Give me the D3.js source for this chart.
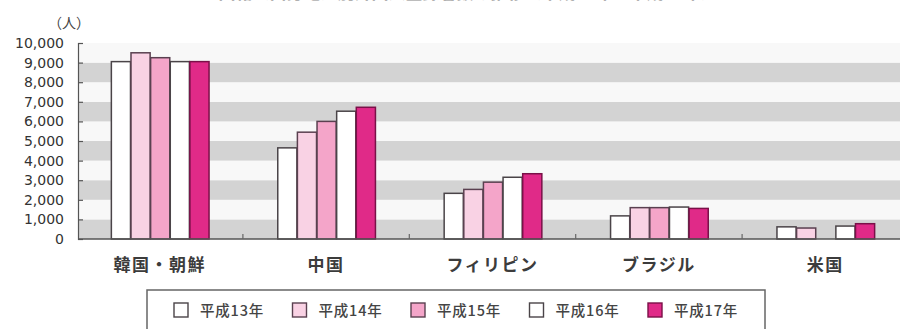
<!DOCTYPE html>
<html>
<head>
<meta charset="utf-8">
<script src="https://cdn.jsdelivr.net/npm/d3@7"></script>
<style>
  html, body { margin: 0; padding: 0; background: #fff; }
  svg { display: block; }
</style>
</head>
<body>
<svg id="chart" width="900" height="329"></svg>
<script>
// Foreign residents by nationality, H13–H17
const categories = ["韓国・朝鮮", "中国", "フィリピン", "ブラジル", "米国"];
const years = ["平成13年", "平成14年", "平成15年", "平成16年", "平成17年"];
const h13 = [9050, 4650, 2330, 1180, 620];
const h14 = [9500, 5450, 2530, 1600, 560];
const h15 = [9250, 6000, 2900, 1600, null];
const h16 = [9050, 6520, 3150, 1630, 660];
const h17 = [9050, 6720, 3330, 1560, 780];
const yTicks = [0, 1000, 2000, 3000, 4000, 5000, 6000, 7000, 8000, 9000, 10000];

const series = [h13, h14, h15, h16, h17];
const fills = ["#ffffff", "#f9d2e4", "#f4a5c9", "#ffffff", "#e02a88"];
const strokes = ["#4a4448", "#5a4050", "#5a4050", "#4a4448", "#7a1048"];

const svg = d3.select("#chart");
const x0 = 78, x1 = 910, yBase = 239, yTop = 43;

const x = d3.scaleBand().domain(categories).range([x0 - 1.5, x1 - 1.5])
  .paddingInner(0.41).paddingOuter(0.205);
const xs = d3.scaleBand().domain(d3.range(years.length)).range([0, x.bandwidth()]);
const y = d3.scaleLinear().domain([0, 10000]).range([yBase, yTop]);

// Title, running off the top edge of the page
svg.append("text")
  .attr("x", 468).attr("y", -1)
  .attr("text-anchor", "middle")
  .attr("font-family", "Noto Sans CJK JP")
  .attr("font-size", 17).attr("font-weight", 700)
  .attr("fill", "#b0b0b0")
  .text("国籍（出身地）別外国人登録者数の推移（平成13年～平成17年）");

// Alternating horizontal bands
const bands = d3.range(0, 10000, 1000);
svg.append("g").selectAll("rect").data(bands).join("rect")
  .attr("x", x0).attr("width", 900 - x0)
  .attr("y", d => y(d + 1000))
  .attr("height", d => y(d) - y(d + 1000))
  .attr("fill", d => (d / 1000) % 2 === 0 ? "#d3d3d3" : "#f8f8f8");

// Bars
const groups = svg.append("g").selectAll("g").data(categories).join("g")
  .attr("transform", c => `translate(${x(c)},0)`);
groups.selectAll("rect")
  .data((c, i) => series.map((s, k) => ({ k, v: s[i] })).filter(d => d.v != null))
  .join("rect")
  .attr("x", d => xs(d.k) + 0.75)
  .attr("width", xs.bandwidth() - 0.5)
  .attr("y", d => y(d.v))
  .attr("height", d => yBase - y(d.v))
  .attr("fill", d => fills[d.k])
  .attr("stroke", d => strokes[d.k])
  .attr("stroke-width", 1.5);

// Y axis
const yAxis = d3.axisLeft(y).tickValues(yTicks).tickSize(-5).tickPadding(14)
  .tickFormat(d3.format(","));
const ya = svg.append("g").attr("transform", `translate(${x0},0)`).call(yAxis);
ya.select(".domain").attr("stroke", "#555").attr("stroke-width", 1.2);
ya.selectAll(".tick line").attr("stroke", "#555").attr("stroke-width", 1.2);
ya.selectAll("text")
  .attr("font-family", "DejaVu Sans").attr("font-size", 14)
  .attr("fill", "#333");

// Unit label
svg.append("text").attr("x", 69).attr("y", 28).attr("text-anchor", "middle")
  .attr("font-family", "Noto Sans CJK JP").attr("font-size", 14)
  .attr("fill", "#444").text("（人）");

// X axis baseline with separator ticks between categories
const xa = svg.append("g");
xa.append("line").attr("x1", x0).attr("x2", 900).attr("y1", yBase).attr("y2", yBase)
  .attr("stroke", "#555").attr("stroke-width", 1.4);
const seps = categories.slice(1).map(c => x(c) - x.step() * x.paddingInner() / 2);
xa.selectAll(".sep").data(seps).join("line")
  .attr("x1", d => d).attr("x2", d => d)
  .attr("y1", yBase).attr("y2", yBase - 5)
  .attr("stroke", "#666").attr("stroke-width", 1.2);
xa.selectAll("text").data(categories).join("text")
  .attr("x", c => x(c) + x.bandwidth() / 2)
  .attr("y", 271)
  .attr("text-anchor", "middle")
  .attr("font-family", "Noto Sans CJK JP").attr("font-size", 17).attr("font-weight", 700)
  .attr("letter-spacing", 1.5)
  .attr("fill", "#3c3c3c")
  .text(c => c);

// Legend
const lg = svg.append("g");
lg.append("rect").attr("x", 147).attr("y", 290).attr("width", 618).attr("height", 60)
  .attr("fill", "#fff").attr("stroke", "#666").attr("stroke-width", 1.5);
const items = lg.selectAll(".item").data(years).join("g")
  .attr("transform", (d, i) => `translate(${174 + i * 118.5},303)`);
items.append("rect").attr("width", 14).attr("height", 14)
  .attr("fill", (d, i) => fills[i]).attr("stroke", (d, i) => strokes[i]).attr("stroke-width", 1.4);
items.append("text").attr("x", 26).attr("y", 13)
  .attr("font-family", "Noto Sans CJK JP").attr("font-size", 14.5).attr("font-weight", 500)
  .attr("letter-spacing", 0.8)
  .attr("fill", "#444").text(d => d);
</script>
</body>
</html>
